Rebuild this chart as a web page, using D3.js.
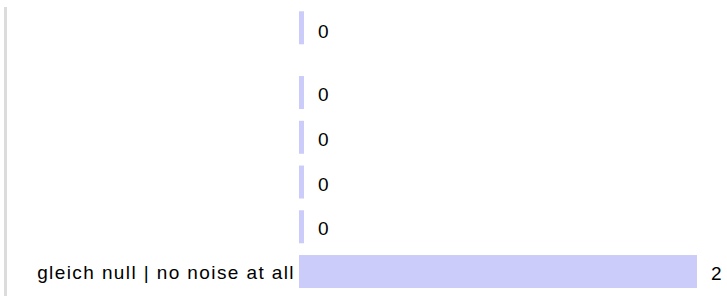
<!DOCTYPE html>
<html>
<head>
<meta charset="utf-8">
<script src="https://cdn.jsdelivr.net/npm/d3@7"></script>
<style>
  body { margin: 0; background: #fff; }
  text { font-family: "Liberation Sans", Arial, sans-serif; font-size: 19px; letter-spacing: 1.4px; fill: #000; }
</style>
</head>
<body>
<script>
var width = 727
var height = 296

// data
var categories = ["", "", "", "", "", "gleich null | no noise at all"]
var values = [0, 0, 0, 0, 0, 2]

var svg = d3.select("body").append("svg")
    .attr("width", width)
    .attr("height", height)

// left gray rule
svg.append("rect")
    .attr("x", 4)
    .attr("y", 7)
    .attr("width", 3)
    .attr("height", height - 7)
    .attr("fill", "#dcdcdc")

var x = d3.scaleLinear()
    .domain([0, d3.max(values)])
    .range([299, 697])

var y = d3.scaleBand()
    .domain(d3.range(categories.length))
    .range([25.4, 293.9])
    .paddingInner(0.2626)
    .paddingOuter(0.1313)

// the first row sits a little higher than the rest
var firstRowLift = 20
function rowY(i) { return y(i) - (i === 0 ? firstRowLift : 0) }

var minBar = 5

var rows = svg.selectAll("g.row")
    .data(values)
    .enter().append("g")
    .attr("class", "row")
    .attr("transform", function(d, i) { return "translate(0," + rowY(i) + ")" })

rows.append("rect")
    .attr("x", x(0))
    .attr("y", 0)
    .attr("height", y.bandwidth())
    .attr("width", function(d) { return Math.max(minBar, x(d) - x(0)) })
    .attr("fill", "#ccccfa")

rows.append("text")
    .attr("x", function(d) { return x(0) + Math.max(minBar, x(d) - x(0)) + 14 })
    .attr("y", y.bandwidth() / 2)
    .attr("dy", function(d, i) { return i === 0 ? "0.55em" : "0.45em" })
    .text(function(d) { return d })

rows.append("text")
    .attr("x", x(0) - 4)
    .attr("y", y.bandwidth() / 2)
    .attr("dy", "0.4em")
    .attr("text-anchor", "end")
    .text(function(d, i) { return categories[i] })
</script>
</body>
</html>
